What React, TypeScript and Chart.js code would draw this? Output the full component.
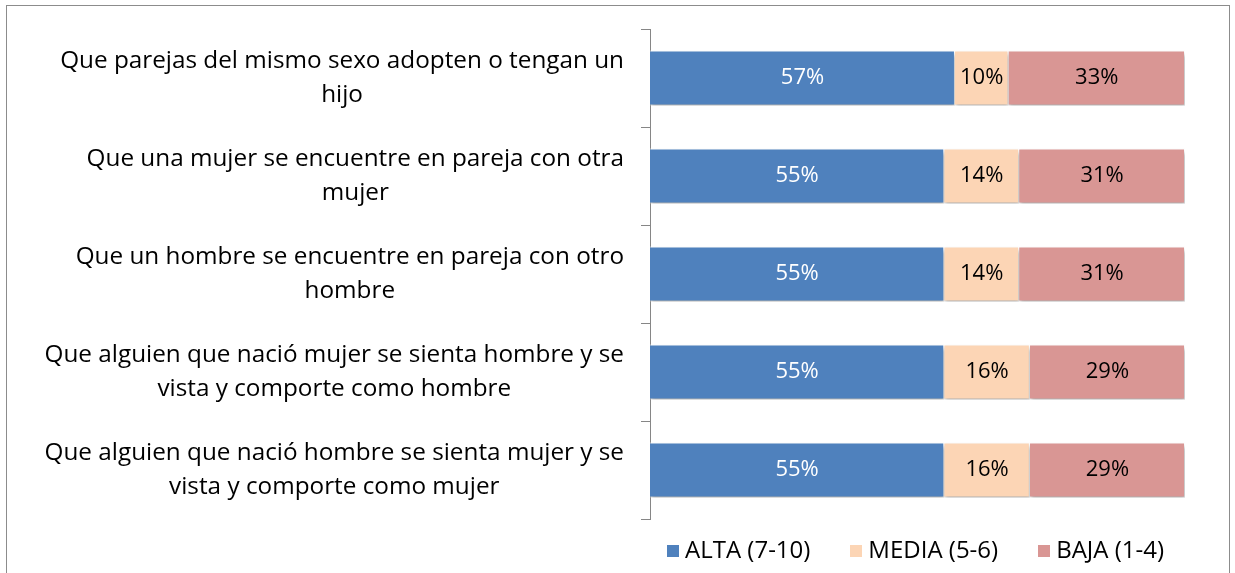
import React, { useEffect, useRef } from "react";
import { Chart, registerables } from "chart.js";

Chart.register(...registerables);

const categories: string[][] = [
  ["Que parejas del mismo sexo adopten o tengan un", "hijo"],
  ["Que una mujer se encuentre en pareja con otra", "mujer"],
  ["Que un hombre se encuentre en pareja con otro", "hombre"],
  ["Que alguien que nació mujer se sienta hombre y se", "vista y comporte como hombre"],
  ["Que alguien que nació hombre se sienta mujer y se", "vista y comporte como mujer"],
];
const seriesNames = ["ALTA (7-10)", "MEDIA (5-6)", "BAJA (1-4)"];
const alta = [57, 55, 55, 55, 55];
const media = [10, 14, 14, 16, 16];
const baja = [33, 31, 31, 29, 29];

const FONT = "'Open Sans', 'Noto Sans', sans-serif";
const COLORS = ["#4F81BD", "#FCD5B5", "#D99694"];
const LABEL_COLORS = ["#ffffff", "#000000", "#000000"];

const framePlugin = {
  id: "frame",
  beforeDraw(chart: any) {
    const ctx = chart.ctx;
    ctx.save();
    ctx.fillStyle = "#ffffff";
    ctx.fillRect(0, 0, chart.width, chart.height);
    ctx.strokeStyle = "#8c8c8c";
    ctx.lineWidth = 1;
    ctx.strokeRect(6.5, 5.5, 1223, 700);
    ctx.restore();
  },
};

const shadowLabelPlugin = {
  id: "shadowLabels",
  beforeDatasetsDraw(chart: any) {
    const ctx = chart.ctx;
    ctx.save();
    ctx.shadowColor = "rgba(0,0,0,0.35)";
    ctx.shadowBlur = 4;
    ctx.shadowOffsetX = 1;
    ctx.shadowOffsetY = 3;
  },
  afterDatasetsDraw(chart: any) {
    const ctx = chart.ctx;
    ctx.restore();
    ctx.save();
    ctx.font = `22px ${FONT}`;
    ctx.textAlign = "center";
    ctx.textBaseline = "middle";
    chart.data.datasets.forEach((ds: any, di: number) => {
      const meta = chart.getDatasetMeta(di);
      meta.data.forEach((bar: any, i: number) => {
        const { x, base, y } = bar.getProps(["x", "base", "y"], true);
        ctx.fillStyle = LABEL_COLORS[di];
        ctx.fillText(`${Math.round(ds.data[i])}%`, (x + base) / 2, y);
      });
    });
    ctx.restore();
  },
};

const yLabelPlugin = {
  id: "yLabels",
  afterDraw(chart: any) {
    const ctx = chart.ctx;
    const yScale = chart.scales.y;
    const right = chart.chartArea.left - 26;
    const lineH = 34;
    ctx.save();
    ctx.font = `24.3px ${FONT}`;
    ctx.fillStyle = "#000000";
    ctx.textAlign = "center";
    ctx.textBaseline = "middle";
    categories.forEach((lines, i) => {
      const yc = yScale.getPixelForValue(i);
      const w = Math.max(...lines.map((l) => ctx.measureText(l).width));
      const cx = right - w / 2;
      lines.forEach((l, j) => {
        ctx.fillText(l, cx, yc + (j - (lines.length - 1) / 2) * lineH);
      });
    });
    ctx.restore();
  },
};

const legendPlugin = {
  id: "bottomLegend",
  afterDraw(chart: any) {
    const ctx = chart.ctx;
    const box = 12;
    const boxGap = 6;
    const itemGap = 40;
    const yc = chart.chartArea.bottom + 32;
    ctx.save();
    ctx.font = `24px ${FONT}`;
    ctx.textBaseline = "middle";
    ctx.textAlign = "left";
    const widths = chart.data.datasets.map((ds: any) => ctx.measureText(ds.label).width);
    const total =
      widths.reduce((a: number, w: number) => a + box + boxGap + w, 0) +
      itemGap * (widths.length - 1);
    let x = (chart.chartArea.left + chart.chartArea.right) / 2 - 2 - total / 2;
    chart.data.datasets.forEach((ds: any, i: number) => {
      ctx.fillStyle = ds.backgroundColor;
      ctx.fillRect(Math.round(x), Math.round(yc - box / 2), box, box);
      ctx.fillStyle = "#000000";
      ctx.fillText(ds.label, x + box + boxGap, yc);
      x += box + boxGap + widths[i] + itemGap;
    });
    ctx.restore();
  },
};

export default function App() {
  const ref = useRef<HTMLCanvasElement | null>(null);
  useEffect(() => {
    if (!ref.current) return;
    const chart = new Chart(ref.current, {
      type: "bar",
      data: {
        labels: categories.map((c) => c.join(" ")),
        datasets: [alta, media, baja].map((d, i) => ({
          label: seriesNames[i],
          data: d,
          backgroundColor: COLORS[i],
          borderColor: "#ffffff",
          borderWidth: 1,
          categoryPercentage: 0.56,
          barPercentage: 1,
        })),
      },
      options: {
        indexAxis: "y",
        animation: false,
        responsive: true,
        maintainAspectRatio: false,
        layout: { padding: { top: 29, right: 50, bottom: 54, left: 0 } },
        scales: {
          x: {
            stacked: true,
            min: 0,
            max: 100,
            display: false,
          },
          y: {
            stacked: true,
            position: "left",
            ticks: { display: false },
            grid: {
              drawOnChartArea: false,
              drawTicks: true,
              tickLength: 9,
              color: "#868686",
              offset: true,
            },
            border: { display: true, color: "#868686" },
            afterFit: (s: any) => {
              s.width = 650;
            },
          },
        },
        plugins: {
          legend: { display: false },
          tooltip: { enabled: false },
        },
      },
      plugins: [framePlugin, shadowLabelPlugin, yLabelPlugin, legendPlugin],
    });
    return () => chart.destroy();
  }, []);
  return (
    <div style={{ position: "absolute", left: 0, top: 0, width: 1235, height: 573 }}>
      <canvas ref={ref} />
    </div>
  );
}
